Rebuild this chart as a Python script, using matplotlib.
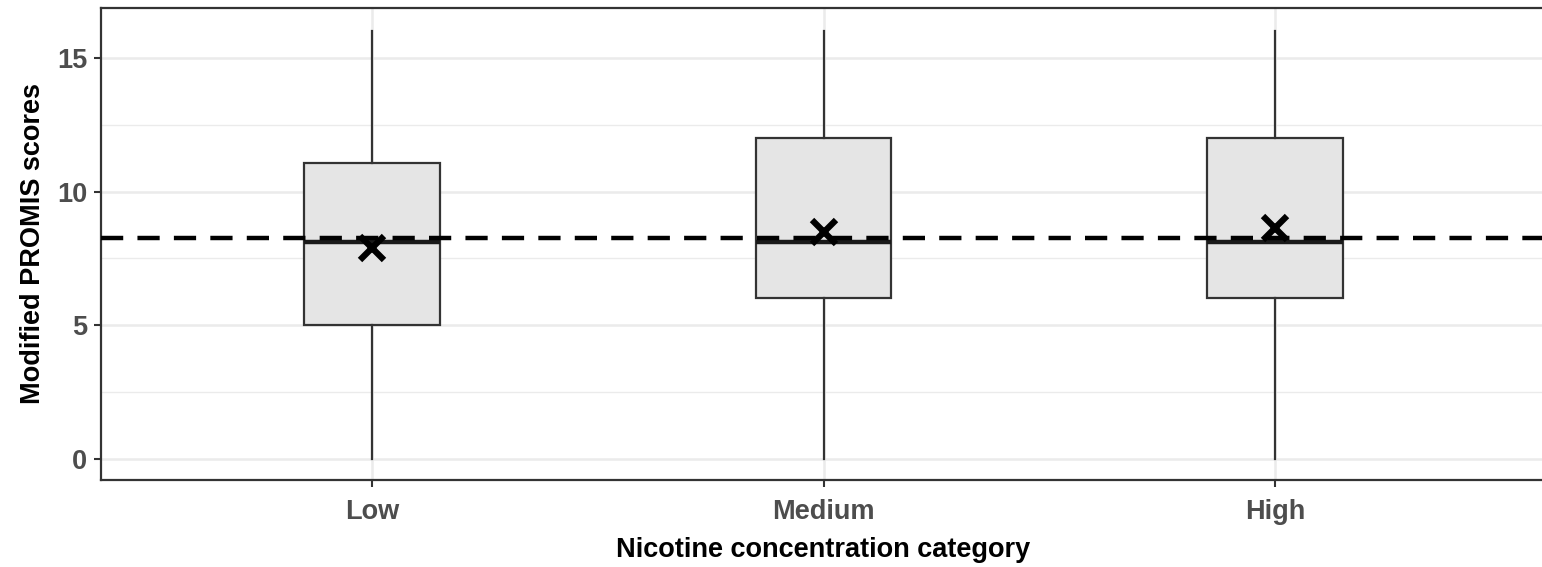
import matplotlib
matplotlib.use('Agg')
import matplotlib.pyplot as plt
from matplotlib.ticker import MultipleLocator

plt.rcParams['font.family'] = ['Liberation Sans', 'DejaVu Sans']

# values
categories = ['Low', 'Medium', 'High']
whisker_lo = [0, 0, 0]
q1 = [5.0, 6.0, 6.0]
medians = [8.1, 8.1, 8.1]
q3 = [11.05, 12.0, 12.0]
whisker_hi = [16, 16, 16]
means = [7.9, 8.47, 8.63]
overall_mean = 8.27

fig = plt.figure(figsize=(15.42, 5.67), dpi=100)
ax = fig.add_axes([101 / 1542, 1 - 480 / 567, 1445 / 1542, 472 / 567])

stats = []
for i, name in enumerate(categories):
    stats.append({'label': name, 'whislo': whisker_lo[i], 'q1': q1[i], 'med': medians[i],
                  'q3': q3[i], 'whishi': whisker_hi[i], 'fliers': []})

positions = list(range(1, len(categories) + 1))
ax.bxp(stats, positions=positions, widths=0.3, patch_artist=True, showcaps=False,
       boxprops=dict(facecolor='#E5E5E5', edgecolor='#333333', linewidth=1.6),
       whiskerprops=dict(color='#333333', linewidth=1.6),
       medianprops=dict(color='#1a1a1a', linewidth=3.2), zorder=3)

ax.plot(positions, means, linestyle='none', marker='x', markersize=17,
        markeredgewidth=4.5, color='black', zorder=5)
ax.axhline(overall_mean, color='black', linestyle=(0, (5, 3.2)), linewidth=3.2, zorder=4)

ax.set_xlim(0.4, 3.6)
ax.set_ylim(-0.8, 16.87)
ax.yaxis.set_major_locator(MultipleLocator(5))
ax.yaxis.set_minor_locator(MultipleLocator(2.5))
ax.set_xticks(positions)
ax.set_xticklabels(categories)

ax.grid(True, which='major', color='#EBEBEB', linewidth=1.8, zorder=0)
ax.grid(True, which='minor', axis='y', color='#EBEBEB', linewidth=1.0, zorder=0)
ax.set_axisbelow(True)
ax.tick_params(axis='y', which='minor', length=0)
ax.tick_params(which='major', length=5, width=1.5, color='#333333',
               labelcolor='#4D4D4D', labelsize=19.5)
ax.tick_params(axis='x', pad=9)
ax.tick_params(axis='y', pad=5)
for lab in ax.get_xticklabels() + ax.get_yticklabels():
    lab.set_fontweight('bold')
for sp in ax.spines.values():
    sp.set_color('#333333')
    sp.set_linewidth(1.6)

ax.set_xlabel('Nicotine concentration category', fontsize=19.5, fontweight='bold', labelpad=8)
ax.set_ylabel('Modified PROMIS scores', fontsize=19.5, fontweight='bold', labelpad=8)

fig.savefig('out.png', dpi=100)
